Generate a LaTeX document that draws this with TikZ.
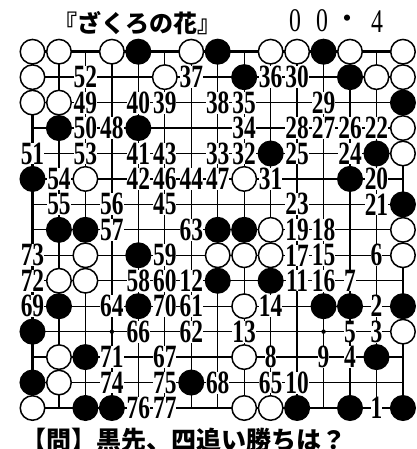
\documentclass[tikz,border=0pt]{standalone}
\usepackage{fontspec}
\usepackage{graphicx}
\setmainfont{Liberation Serif}
\newfontfamily\jp{Noto Sans CJK JP}
\usetikzlibrary{positioning}
\tikzstyle{negra} = [circle, draw=black, fill=black, line width=1.5pt, minimum size=24.5pt, inner sep=0pt]
\tikzstyle{blanca} = [circle, draw=black, fill=white, line width=1.5pt, minimum size=24.5pt, inner sep=0pt]
\tikzstyle{jugada} = [fill=white, inner sep=0pt, font=\fontsize{32.5}{32.5}\selectfont\bfseries]
\tikzstyle{linea} = [line width=1.3pt]
\tikzstyle{borde} = [line width=2.6pt]
\newcommand{\estrecho}[1]{\scalebox{0.72}[1]{#1}}

\begin{document}
\begin{tikzpicture}[x=26.46pt, y=-25.45pt]
    \useasboundingbox (-0.228,-1.031) rectangle (15.494,16.611);
    % Tablero 15x15
    \foreach \i in {2,...,14} {
        \draw [linea] (\i,1) -- (\i,15);
        \draw [linea] (1,\i) -- (15,\i);
    }
    \draw [borde] (1,1) rectangle (15,15);
    \foreach \p in {(4,4),(12,4),(8,8),(4,12),(12,12)} \fill \p circle (2.2pt);

    % Titulo
    \node (titulo) [font=\jp\bfseries\fontsize{24}{24}\selectfont] at (4.97,-0.13) {『ざくろの花』};
    \foreach \c/\t [count=\k] in {10.92/0, 11.94/0, 14.02/4}
        \node (fecha\k) [font=\fontsize{33}{33}\selectfont] at (\c,-0.2) {\estrecho{\t}};
    \node (punto) [font=\jp\bfseries\fontsize{22}{22}\selectfont] at (12.92,-0.2) {・};

    % Jugadas numeradas
    \foreach \c/\r/\t in {3/2/52, 7/2/37, 10/2/36, 11/2/30,
        3/3/49, 5/3/40, 6/3/39, 8/3/38, 9/3/35, 12/3/29,
        3/4/50, 4/4/48, 9/4/34, 11/4/28, 12/4/27, 13/4/26, 14/4/22,
        1/5/51, 3/5/53, 5/5/41, 6/5/43, 8/5/33, 9/5/32, 11/5/25, 13/5/24,
        2/6/54, 5/6/42, 6/6/46, 7/6/44, 8/6/47, 10/6/31, 14/6/20,
        2/7/55, 4/7/56, 6/7/45, 11/7/23, 14/7/21,
        4/8/57, 7/8/63, 11/8/19, 12/8/18,
        1/9/73, 6/9/59, 11/9/17, 12/9/15, 14/9/6,
        1/10/72, 5/10/58, 6/10/60, 7/10/12, 11/10/11, 12/10/16, 13/10/7,
        1/11/69, 4/11/64, 6/11/70, 7/11/61, 10/11/14, 14/11/2,
        5/12/66, 7/12/62, 9/12/13, 13/12/5, 14/12/3,
        4/13/71, 6/13/67, 10/13/8, 12/13/9, 13/13/4,
        4/14/74, 6/14/75, 8/14/68, 10/14/65, 11/14/10,
        5/15/76, 6/15/77, 14/15/1}
        \node (m\t) [jugada] at (\c,\r) {\estrecho{\t}};

    % Piedras blancas
    \foreach \c/\r in {1/1, 2/1, 4/1, 7/1, 10/1, 11/1, 13/1, 15/1,
        1/2, 6/2, 14/2, 15/2, 1/3, 2/3, 15/4, 15/5, 3/6, 9/6,
        10/8, 15/8, 3/9, 8/9, 9/9, 10/9, 15/9, 2/10, 3/10, 9/11,
        15/12, 2/13, 9/13, 2/14, 1/15, 9/15, 10/15}
        \node (w\c-\r) [blanca] at (\c,\r) {};
    % Piedras negras
    \foreach \c/\r in {5/1, 8/1, 12/1, 9/2, 13/2, 15/3, 2/4, 5/4,
        10/5, 14/5, 1/6, 13/6, 15/7, 2/8, 3/8, 8/8, 9/8, 5/9,
        8/10, 10/10, 2/11, 5/11, 12/11, 13/11, 15/11, 1/12,
        3/13, 14/13, 1/14, 7/14, 3/15, 4/15, 11/15, 13/15, 15/15}
        \node (b\c-\r) [negra] at (\c,\r) {};

    % Pregunta
    \node (pregunta) [font=\jp\bfseries\fontsize{25}{25}\selectfont, anchor=west, inner sep=0pt] at (0.565,16.26) {【問】黒先、四追い勝ちは？};
\end{tikzpicture}
\end{document}
